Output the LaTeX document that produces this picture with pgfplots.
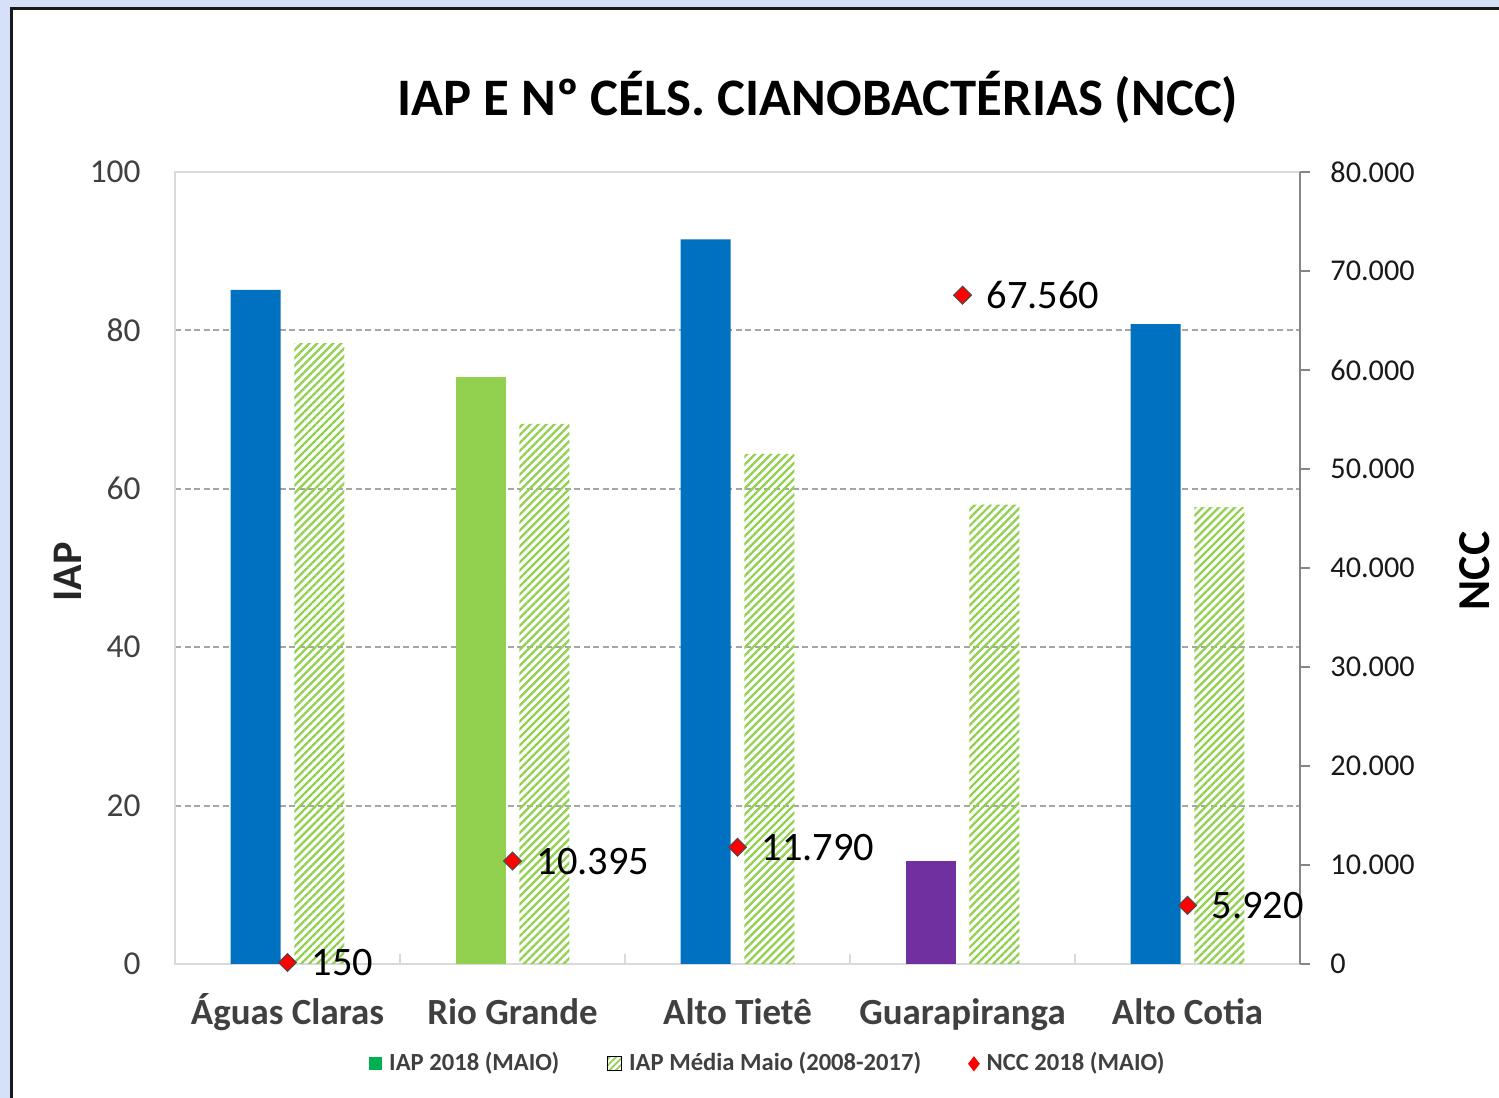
\documentclass[border=0pt]{standalone}
\usepackage{fontspec}
\setmainfont{Carlito}
\usepackage{pgfplots}
\pgfplotsset{compat=1.18}
\usepackage{pgfplotstable}
\usetikzlibrary{patterns,patterns.meta}
\definecolor{bgblue}{HTML}{D6E0F8}
\definecolor{barblue}{HTML}{0070C0}
\definecolor{bargreen}{HTML}{92D050}
\definecolor{barpurple}{HTML}{7030A0}
\definecolor{leggreen}{HTML}{00B050}
\definecolor{txtgray}{HTML}{404040}
\definecolor{framegray}{HTML}{D9D9D9}
\definecolor{gridgray}{HTML}{A6A6A6}
\definecolor{axisgray}{HTML}{868686}

\pgfplotstableread{
x y
0 85.1
2 91.5
4 80.8
}\blueData
\pgfplotstableread{
x y
1 74.1
}\greenData
\pgfplotstableread{
x y
3 13.0
}\purpleData
\pgfplotstableread{
x y
0 78.4
1 68.2
2 64.4
3 58.0
4 57.7
}\avgData
\pgfplotstableread{
x y label
0 150 150
1 10395 10.395
2 11790 11.790
3 67560 67.560
4 5920 5.920
}\nccData

\begin{document}
\begin{tikzpicture}
\useasboundingbox (0,0) rectangle (149.9mm,109.8mm);
\fill[bgblue] (0,0) rectangle (149.9mm,109.8mm);
\draw[line width=0.3mm, draw=black!90, fill=white] (1.15mm,-5mm) rectangle (156mm,108.95mm);

\node[font=\fontsize{15}{18}\selectfont\bfseries, text=black] at (81.8mm,100.1mm) {IAP E Nº CÉLS. CIANOBACTÉRIAS (NCC)};
\node[font=\fontsize{12}{14}\selectfont\bfseries, text=black!85, rotate=90] at (6.8mm,52.6mm) {IAP};
\node[font=\fontsize{13}{15}\selectfont\bfseries, text=black, rotate=90] at (147.5mm,52.7mm) {NCC};

\begin{axis}[
  at={(17.5mm,13.4mm)}, anchor=south west,
  scale only axis, width=112.5mm, height=79.2mm,
  xmin=-0.5, xmax=4.5, ymin=0, ymax=100,
  xtick={0,1,2,3,4},
  xticklabels={Águas Claras,Rio Grande,Alto Tietê,Guarapiranga,Alto Cotia},
  minor xtick={0.5,1.5,2.5,3.5},
  xtick pos=left,
  major x tick style={draw=none},
  minor x tick style={draw=framegray, line width=0.6pt},
  minor tick length=1mm,
  tick align=inside,
  ytick={0,20,...,100},
  major y tick style={draw=none},
  axis line style={draw=framegray, line width=0.6pt},
  ymajorgrids,
  major grid style={draw=gridgray, line width=0.6pt, dash pattern=on 0.6mm off 0.35mm},
  /pgf/number format/assume math mode=true,
  yticklabel style={font=\fontsize{9.5}{11}\selectfont, text=txtgray, xshift=-2.2mm},
  xticklabel style={font=\fontsize{10.5}{12}\selectfont\bfseries, text=txtgray, text height=1em, text depth=0.25em, anchor=north, yshift=-1.3mm},
  legend style={at={(0.529,-0.126)}, anchor=center, draw=none, fill=none,
    font=\fontsize{7}{8}\selectfont\bfseries, text=txtgray, legend columns=3,
    /tikz/every even column/.append style={column sep=4mm}},
  legend cell align=left,
  clip=false,
]
\addlegendimage{legend image code/.code={\fill[leggreen] (0.2mm,-0.6mm) rectangle (1.4mm,0.6mm);}}
\addlegendentry{IAP 2018 (MAIO)}
\addlegendimage{legend image code/.code={\fill[pattern={Lines[angle=45,distance=1.3pt,line width=0.5pt]}, pattern color=bargreen] (0mm,-0.7mm) rectangle (1.4mm,0.7mm);}}
\addlegendentry{IAP Média Maio (2008-2017)}
\addlegendimage{legend image code/.code={\fill[red] (0.7mm,-0.65mm) -- (1.2mm,0mm) -- (0.7mm,0.65mm) -- (0.2mm,0mm) -- cycle;}}
\addlegendentry{NCC 2018 (MAIO)}

\addplot[ybar, bar width=0.222, bar shift=-0.142, fill=barblue, draw=none, forget plot] table[x=x,y=y] {\blueData};
\addplot[ybar, bar width=0.222, bar shift=-0.142, fill=bargreen, draw=none, forget plot] table[x=x,y=y] {\greenData};
\addplot[ybar, bar width=0.222, bar shift=-0.142, fill=barpurple, draw=none, forget plot] table[x=x,y=y] {\purpleData};
\addplot[ybar, bar width=0.222, bar shift=0.142, draw=none, pattern={Lines[angle=45,distance=1.6pt,line width=0.65pt]}, pattern color=bargreen, forget plot] table[x=x,y=y] {\avgData};
\end{axis}

\begin{axis}[
  at={(17.5mm,13.4mm)}, anchor=south west,
  scale only axis, width=112.5mm, height=79.2mm,
  xmin=-0.5, xmax=4.5, ymin=0, ymax=80000,
  axis x line=none,
  axis y line*=right,
  y axis line style={draw=axisgray, line width=0.6pt},
  ytick={0,10000,...,80000},
  scaled y ticks=false,
  tick align=outside,
  major tick length=1mm,
  ytick style={draw=axisgray, line width=0.6pt},
  /pgf/number format/.cd, fixed, 1000 sep={.}, assume math mode=true,
  /pgfplots/.cd,
  yticklabel style={font=\fontsize{8.6}{10}\selectfont, text=black!90, anchor=west, xshift=0.8mm},
  clip=false,
]
\addplot[only marks, mark=square*, mark size=0.63mm, mark options={rotate=45, fill=red, draw=black!70, line width=0.3pt},
  nodes near coords, point meta=explicit symbolic,
  nodes near coords style={anchor=west, xshift=1.2mm, font=\fontsize{11.5}{13}\selectfont, text=black}]
  table[x=x,y=y,meta=label] {\nccData};
\end{axis}
\end{tikzpicture}
\end{document}
